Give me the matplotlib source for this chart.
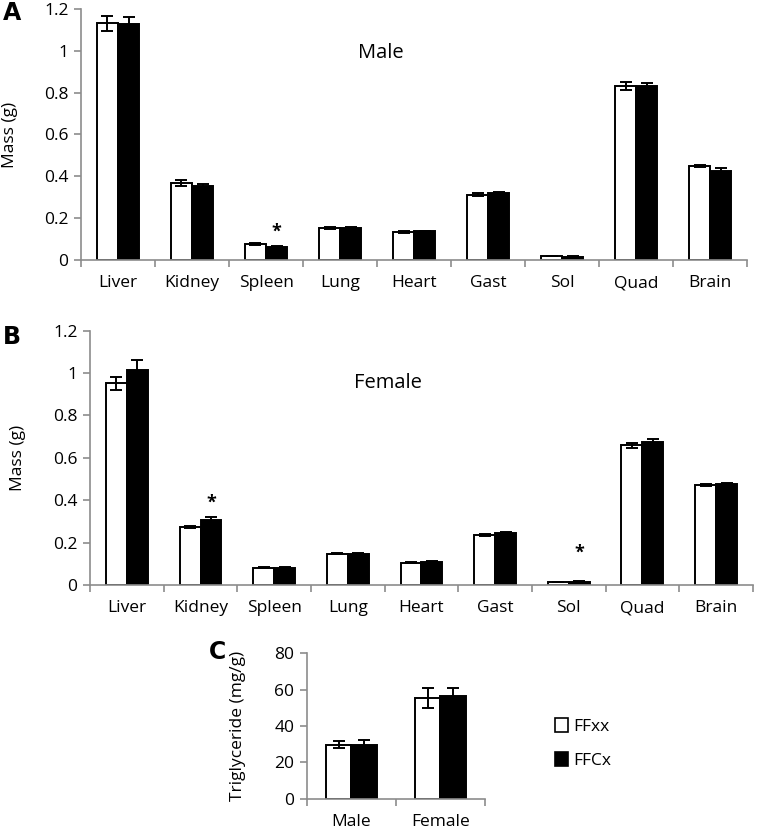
import numpy as np
import matplotlib
matplotlib.use("Agg")
import matplotlib.pyplot as plt
from matplotlib.patches import Patch

plt.rcParams['font.family'] = ['Open Sans', 'DejaVu Sans']

organs = ["Liver", "Kidney", "Spleen", "Lung", "Heart", "Gast", "Sol", "Quad", "Brain"]

# Panel A - male organ mass (g)
male_ffxx = [1.131, 0.368, 0.075, 0.153, 0.135, 0.312, 0.019, 0.833, 0.451]
male_ffxx_err = [0.035, 0.013, 0.004, 0.004, 0.004, 0.006, 0.002, 0.018, 0.005]
male_ffcx = [1.130, 0.355, 0.062, 0.155, 0.137, 0.319, 0.016, 0.831, 0.427]
male_ffcx_err = [0.033, 0.007, 0.003, 0.004, 0.004, 0.007, 0.002, 0.016, 0.014]
male_stars = {2: 0.09}

# Panel B - female organ mass (g)
female_ffxx = [0.952, 0.275, 0.082, 0.148, 0.105, 0.237, 0.014, 0.659, 0.473]
female_ffxx_err = [0.031, 0.005, 0.003, 0.004, 0.002, 0.004, 0.001, 0.013, 0.004]
female_ffcx = [1.014, 0.308, 0.082, 0.146, 0.110, 0.247, 0.016, 0.673, 0.475]
female_ffcx_err = [0.050, 0.014, 0.003, 0.004, 0.003, 0.005, 0.002, 0.017, 0.004]
female_stars = {1: 0.345, 6: 0.11}

# Panel C - triglyceride (mg/g)
sexes = ["Male", "Female"]
tg_ffxx = [29.8, 55.2]
tg_ffxx_err = [2.1, 5.4]
tg_ffcx = [29.8, 56.6]
tg_ffcx_err = [2.7, 4.4]

GRAY = "#8c8c8c"
W = 0.285
FS = 12.5


def style_axes(ax, ncat):
    for s in ["top", "right"]:
        ax.spines[s].set_visible(False)
    for s in ["left", "bottom"]:
        ax.spines[s].set_color(GRAY)
        ax.spines[s].set_linewidth(1.2)
    ax.set_xlim(0, ncat)
    ax.set_xticks(np.arange(ncat + 1))
    ax.set_xticklabels([])
    ax.tick_params(axis="x", which="major", direction="out", length=5, color=GRAY, width=1.2)
    ax.tick_params(axis="x", which="minor", length=0, labelsize=FS, pad=11)
    ax.tick_params(axis="y", direction="out", length=5, color=GRAY, width=1.2, labelsize=FS, pad=4)


def grouped(ax, labels, a, a_err, b, b_err, ylim, yticks, ylabels):
    n = len(labels)
    x = np.arange(n) + 0.5
    ekw = dict(elinewidth=1.4, capthick=1.4)
    ax.bar(x - W / 2, a, W, color="white", edgecolor="black", linewidth=1.4,
           yerr=a_err, capsize=4, error_kw=ekw, zorder=2)
    ax.bar(x + W / 2, b, W, color="black", edgecolor="black", linewidth=1.4,
           yerr=b_err, capsize=4, error_kw=ekw, zorder=2)
    style_axes(ax, n)
    ax.set_xticks(x, minor=True)
    ax.set_xticklabels(labels, minor=True)
    ax.set_ylim(*ylim)
    ax.set_yticks(yticks)
    ax.set_yticklabels(ylabels)
    return x


fig = plt.figure(figsize=(7.57, 8.32), dpi=100)

# Panel A
axA = fig.add_axes([0.107, 0.6875, 0.880, 0.3017])
mass_ticks = [0, 0.2, 0.4, 0.6, 0.8, 1.0, 1.2]
mass_labels = ["0", "0.2", "0.4", "0.6", "0.8", "1", "1.2"]
xA = grouped(axA, organs, male_ffxx, male_ffxx_err, male_ffcx, male_ffcx_err,
             (0, 1.2), mass_ticks, mass_labels)
axA.set_ylabel("Mass (g)", fontsize=12.5)
axA.yaxis.set_label_coords(-0.094, 0.5)
axA.text(4.05, 0.966, "Male", fontsize=14.5, ha="center", va="baseline")
for i, yv in male_stars.items():
    axA.text(xA[i] + W / 2, yv, "*", fontsize=13, fontweight="bold", ha="center", va="bottom")

# Panel B
axB = fig.add_axes([0.1189, 0.2969, 0.8758, 0.3056])
xB = grouped(axB, organs, female_ffxx, female_ffxx_err, female_ffcx, female_ffcx_err,
             (0, 1.2), mass_ticks, mass_labels)
axB.set_ylabel("Mass (g)", fontsize=12.5)
axB.yaxis.set_label_coords(-0.097, 0.5)
axB.text(4.05, 0.93, "Female", fontsize=14.5, ha="center", va="baseline")
for i, yv in female_stars.items():
    axB.text(xB[i] + W / 2, yv, "*", fontsize=13, fontweight="bold", ha="center", va="bottom")

# Panel C
axC = fig.add_axes([0.4055, 0.0397, 0.2352, 0.1754])
grouped(axC, sexes, tg_ffxx, tg_ffxx_err, tg_ffcx, tg_ffcx_err,
        (0, 80), [0, 20, 40, 60, 80], ["0", "20", "40", "60", "80"])
axC.set_ylabel("Triglyceride (mg/g)", fontsize=12.5)
axC.yaxis.set_label_coords(-0.345, 0.5)

handles = [Patch(facecolor="white", edgecolor="black", linewidth=1.2, label="FFxx"),
           Patch(facecolor="black", edgecolor="black", linewidth=1.2, label="FFCx")]
fig.legend(handles=handles, loc="center left", bbox_to_anchor=(0.712, 0.106),
           frameon=False, fontsize=12.5, handlelength=0.8, handleheight=0.8,
           handletextpad=0.3, labelspacing=1.0)

# panel letters
fig.text(0.004, 0.984, "A", fontsize=17, fontweight="bold", family="DejaVu Sans", va="center")
fig.text(0.004, 0.595, "B", fontsize=17, fontweight="bold", family="DejaVu Sans", va="center")
fig.text(0.276, 0.216, "C", fontsize=17, fontweight="bold", family="DejaVu Sans", va="center")

fig.savefig("out.png", dpi=100)
